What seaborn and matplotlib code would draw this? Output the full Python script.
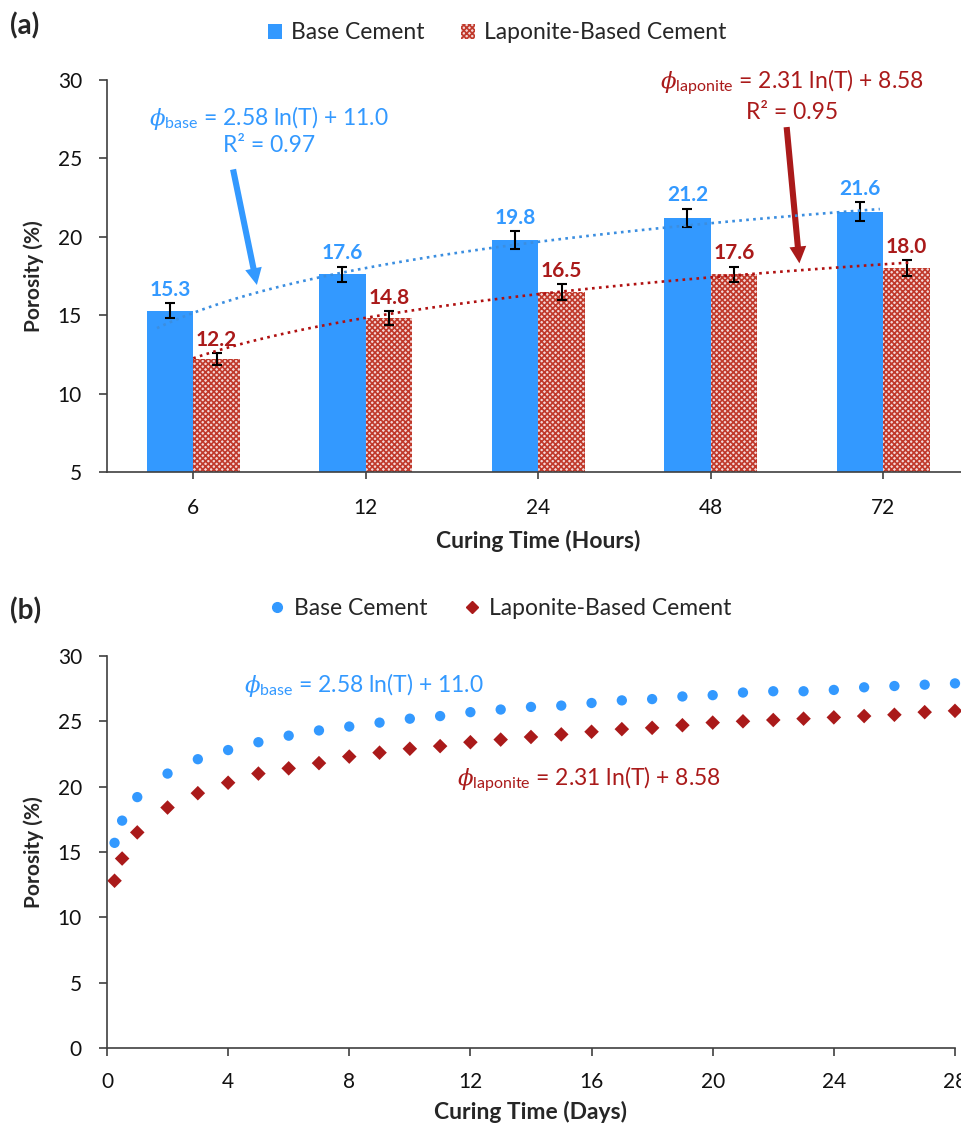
import numpy as np
import pandas as pd
import matplotlib.pyplot as plt
import seaborn as sns
from matplotlib.patches import Patch
from matplotlib.lines import Line2D

# Panel (a): porosity vs curing time in hours
hours = ["6", "12", "24", "48", "72"]
base_por = [15.3, 17.6, 19.8, 21.2, 21.6]
lap_por = [12.2, 14.8, 16.5, 17.6, 18.0]
base_err = [0.5, 0.5, 0.55, 0.6, 0.6]
lap_err = [0.4, 0.45, 0.5, 0.5, 0.5]

# Panel (b): porosity vs curing time in days
days = [0.25, 0.5, 1, 2, 3, 4, 5, 6, 7, 8, 9, 10, 11, 12, 13, 14,
        15, 16, 17, 18, 19, 20, 21, 22, 23, 24, 25, 26, 27, 28]
base_days = [15.7, 17.4, 19.2, 21.0, 22.1, 22.8, 23.4, 23.9, 24.3, 24.6,
             24.9, 25.2, 25.4, 25.7, 25.9, 26.1, 26.2, 26.4, 26.6, 26.7,
             26.9, 27.0, 27.2, 27.3, 27.3, 27.4, 27.6, 27.7, 27.8, 27.9]
lap_days = [12.8, 14.5, 16.5, 18.4, 19.5, 20.3, 21.0, 21.4, 21.8, 22.3,
            22.6, 22.9, 23.1, 23.4, 23.6, 23.8, 24.0, 24.2, 24.4, 24.5,
            24.7, 24.9, 25.0, 25.1, 25.2, 25.3, 25.4, 25.5, 25.7, 25.8]

labels = ["Base Cement", "Laponite-Based Cement"]
BLUE = "#3399FF"
RED = "#AA1A1A"
TXT = "#111111"

sns.set_style("ticks")
plt.rcParams['font.family'] = ['Lato', 'DejaVu Sans']
plt.rcParams['mathtext.fontset'] = 'custom'
plt.rcParams['mathtext.rm'] = 'Lato'
plt.rcParams['mathtext.it'] = 'DejaVu Serif:italic'
plt.rcParams['hatch.linewidth'] = 1.2

fig = plt.figure(figsize=(9.62, 11.29), dpi=100)
ax1 = fig.add_axes([0.1112, 0.5819, 0.8966, 0.3472])
ax2 = fig.add_axes([0.1112, 0.0717, 0.8815, 0.3473])

# ---------- (a) bars ----------
df_a = pd.DataFrame({
    "time": hours * 2,
    "porosity": base_por + lap_por,
    "type": [labels[0]] * 5 + [labels[1]] * 5,
})
sns.barplot(data=df_a, x="time", y="porosity", hue="type",
            palette=[BLUE, "#F4D6D6"], width=0.54, gap=0, saturation=1,
            errorbar=None, legend=False, ax=ax1)
for bar in ax1.containers[1]:
    bar.set_hatch("xxxxxx")
    bar.set_edgecolor("#C0392B")
    bar.set_linewidth(0)
for bar in ax1.containers[0]:
    bar.set_linewidth(0)

for cont, vals, errs, col in [(ax1.containers[0], base_por, base_err, BLUE),
                              (ax1.containers[1], lap_por, lap_err, RED)]:
    xs = [b.get_x() + b.get_width() / 2 for b in cont]
    ax1.errorbar(xs, vals, yerr=errs, fmt="none", ecolor="black",
                 elinewidth=1.5, capsize=3.5, capthick=1.5, zorder=4)
    for x, v, e in zip(xs, vals, errs):
        ax1.text(x, v + e + 0.2, f"{v:.1f}", ha="center", va="bottom",
                 fontsize=15, fontweight="bold", color=col)

# log trendlines (fit on category index, as in the spreadsheet)
idx = np.arange(1, 6)
a_b, b_b = np.polyfit(np.log(idx), base_por, 1)
a_l, b_l = np.polyfit(np.log(idx), lap_por, 1)
u_b = np.linspace(-0.21, 3.98, 100)
u_l = np.linspace(0.0, 4.17, 100)
ax1.plot(u_b, a_b * np.log(u_b + 1) + b_b, ls=":", lw=1.9, color="#3B8EE0", zorder=5)
ax1.plot(u_l, a_l * np.log(u_l + 1) + b_l, ls=":", lw=1.9, color="#B01010", zorder=5)

ax1.set_xlim(-0.5, 4.5)
ax1.set_ylim(5, 30)
ax1.set_yticks([5, 10, 15, 20, 25, 30])
ax1.set_xlabel("Curing Time (Hours)", fontsize=16.5, fontweight="bold", labelpad=8)
ax1.set_ylabel("Porosity (%)", fontsize=15, fontweight="bold", labelpad=10)

ax1.text(0.44, 27.6, r"$\phi_{\mathrm{base}}$ = 2.58 ln(T) + 11.0", color=BLUE,
         fontsize=16.5, ha="center", va="center")
ax1.text(0.44, 25.85, "R² = 0.97", color=BLUE, fontsize=16.5, ha="center", va="center")
ax1.text(3.47, 29.85, r"$\phi_{\mathrm{laponite}}$ = 2.31 ln(T) + 8.58", color=RED,
         fontsize=16.5, ha="center", va="center")
ax1.text(3.47, 27.95, "R² = 0.95", color=RED, fontsize=16.5, ha="center", va="center")

ax1.annotate("", xy=(0.369, 16.93), xytext=(0.231, 24.3),
             arrowprops=dict(arrowstyle="simple,head_length=0.55,head_width=0.55,tail_width=0.2",
                             color=BLUE, lw=0, mutation_scale=22, shrinkA=0, shrinkB=0))
ax1.annotate("", xy=(3.514, 18.31), xytext=(3.44, 27.0),
             arrowprops=dict(arrowstyle="simple,head_length=0.55,head_width=0.55,tail_width=0.2",
                             color=RED, lw=0, mutation_scale=22, shrinkA=0, shrinkB=0))

# ---------- (b) scatter ----------
df_b = pd.DataFrame({
    "days": days * 2,
    "porosity": base_days + lap_days,
    "type": [labels[0]] * len(days) + [labels[1]] * len(days),
})
sns.scatterplot(data=df_b, x="days", y="porosity", hue="type", style="type",
                markers=["o", "D"], palette=[BLUE, RED], s=55, linewidth=0,
                legend=False, ax=ax2, clip_on=False)
ax2.set_xlim(0, 28)
ax2.set_ylim(0, 30)
ax2.set_xticks(range(0, 29, 4))
ax2.set_yticks(range(0, 31, 5))
ax2.set_xlabel("Curing Time (Days)", fontsize=16.5, fontweight="bold", labelpad=7)
ax2.set_ylabel("Porosity (%)", fontsize=15, fontweight="bold", labelpad=10)

ax2.text(8.5, 27.8, r"$\phi_{\mathrm{base}}$ = 2.58 ln(T) + 11.0", color=BLUE,
         fontsize=16.5, ha="center", va="center")
ax2.text(15.9, 20.6, r"$\phi_{\mathrm{laponite}}$ = 2.31 ln(T) + 8.58", color=RED,
         fontsize=16.5, ha="center", va="center")

for ax in (ax1, ax2):
    sns.despine(ax=ax)
    for s in ("left", "bottom"):
        ax.spines[s].set_color("#404040")
        ax.spines[s].set_linewidth(1.2)
    ax.tick_params(axis="both", labelsize=15, colors="#404040", labelcolor=TXT,
                   length=6, width=1.2)
ax1.tick_params(axis="y", pad=12)
ax1.tick_params(axis="x", pad=14, length=5)
ax2.tick_params(axis="y", pad=12)
ax2.tick_params(axis="x", pad=11)

# legends
h_a = [Patch(facecolor=BLUE, edgecolor="none", label=labels[0]),
       Patch(facecolor="#F4D6D6", edgecolor="#C0392B", hatch="xxxxxx", lw=0, label=labels[1])]
fig.legend(handles=h_a, loc="center", bbox_to_anchor=(0.517, 0.9708), ncol=2,
           frameon=False, fontsize=16.5, handlelength=0.6, handleheight=0.6,
           handletextpad=0.4, columnspacing=1.6)
h_b = [Line2D([], [], marker="o", ls="none", color=BLUE, markersize=7, label=labels[0]),
       Line2D([], [], marker="D", ls="none", color=RED, markersize=6.5, label=labels[1])]
fig.legend(handles=h_b, loc="center", bbox_to_anchor=(0.52, 0.4606), ncol=2,
           frameon=False, fontsize=16.5, handlelength=0.7, handletextpad=0.4,
           columnspacing=1.6)

fig.text(0.010, 0.977, "(a)", fontsize=20, fontweight="bold", va="center")
fig.text(0.010, 0.459, "(b)", fontsize=20, fontweight="bold", va="center")

fig.savefig("out.png", dpi=100)
